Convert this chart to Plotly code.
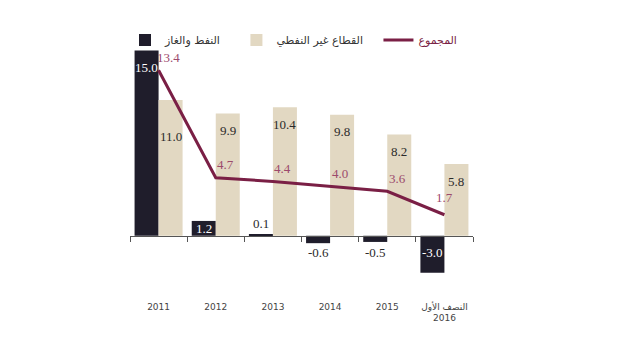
import plotly.graph_objects as go

categories = ["2011", "2012", "2013", "2014", "2015", "النصف الأول<br>2016"]
oil_gas = [15.0, 1.2, 0.1, -0.6, -0.5, -3.0]
non_oil = [11.0, 9.9, 10.4, 9.8, 8.2, 5.8]
total = [13.4, 4.7, 4.4, 4.0, 3.6, 1.7]

name_oil = "النفط والغاز"
name_non = "القطاع غير النفطي"
name_tot = "المجموع"

DARK = "#1f1d2b"
BEIGE = "#e2d8c2"
LINE = "#7a1f45"
LINE_LBL = "#9c4a6c"
TXT = "#2a2a2a"
NUMFONT = "Liberation Serif"
NB = "\u00a0"

YMIN, YMAX = -3.5, 15.2

fig = go.Figure()
fig.add_trace(go.Bar(x=categories, y=oil_gas, name=name_oil + NB * 3, marker_color=DARK,
                     marker_line_width=0))
fig.add_trace(go.Bar(x=categories, y=non_oil, name=name_non + NB * 3, marker_color=BEIGE,
                     marker_line_width=0))
fig.add_trace(go.Scatter(x=categories, y=total, mode="lines",
                         name=f"<span style='color:{LINE}'>{name_tot}</span>",
                         line=dict(color=LINE, width=3)))

ann = []
BAR_OFF = 12  # half bar width in px
for i, v in enumerate(oil_gas):
    if v >= 5:
        y, ys, col = v, -17, "white"
    elif v >= 1:
        y, ys, col = v, -8, "white"
    elif v >= 0:
        y, ys, col = v, 11, TXT
    else:
        y, ys, col = 0, -17, "white" if v <= -1 else TXT
    ann.append(dict(x=i, y=y, text=f"{v:.1f}", showarrow=False, xshift=-BAR_OFF, yshift=ys,
                    font=dict(family=NUMFONT, size=13, color=col)))
for i, (v, t) in enumerate(zip(non_oil, total)):
    ys = -37 if t > v else -17
    ann.append(dict(x=i, y=v, text=f"{v:.1f}", showarrow=False, xshift=BAR_OFF, yshift=ys,
                    font=dict(family=NUMFONT, size=13, color=TXT)))
for i, v in enumerate(total):
    last = i == len(total) - 1
    ann.append(dict(x=i, y=v, text=f"{v:.1f}", showarrow=False,
                    xshift=0 if last else 10, yshift=17 if last else 13,
                    font=dict(family=NUMFONT, size=13, color=LINE_LBL)))

# page body has an 8px default margin, so the figure is offset by 8px
fig.update_layout(
    width=620, height=355,
    margin=dict(l=122, r=155, t=39.5, b=83.5, autoexpand=False),
    paper_bgcolor="white", plot_bgcolor="white",
    barmode="group", bargap=0.16, bargroupgap=0,
    showlegend=True,
    legend=dict(orientation="h", x=117 / 620, xanchor="left", xref="container",
                y=1 - 32 / 355, yref="container", yanchor="middle",
                font=dict(family="DejaVu Sans", size=11, color="#333"),
                itemwidth=30, traceorder="normal", bgcolor="rgba(0,0,0,0)"),
    annotations=ann,
    font=dict(family="DejaVu Sans"),
)
fig.update_xaxes(
    type="category", categoryorder="array", categoryarray=categories,
    range=[-0.5, len(categories) - 0.5],
    anchor="free", position=(0 - YMIN) / (YMAX - YMIN),
    showline=True, linecolor="#555", linewidth=1,
    ticks="outside", tickson="boundaries", ticklen=5, tickcolor="#555",
    ticklabelstandoff=62, tickangle=0, automargin=False,
    tickfont=dict(family="DejaVu Sans", size=9, color="#444"),
    showgrid=False, zeroline=False,
)
fig.update_yaxes(range=[YMIN, YMAX], visible=False, showgrid=False, zeroline=False,
                 automargin=False)

fig.write_html("out.html")
